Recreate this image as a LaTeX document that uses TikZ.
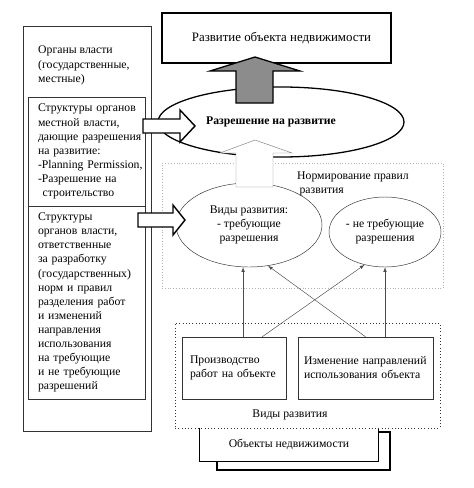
\documentclass[tikz,border=0pt]{standalone}
\usepackage{fontspec}
\setmainfont{Liberation Serif}
\usetikzlibrary{arrows, calc, shapes.geometric}
\tikzset{>=latex,every node/.style={inner sep=0pt, font=\fontsize{10}{12}\selectfont}}
\tikzset{
  frameBox/.style={shape=rectangle, draw=black!80},
  orgBox/.style={shape=rectangle, draw=black!80, fill=white, align=left, text width=29.1mm},
  plainText/.style={align=left},
  mainBox/.style={shape=rectangle, draw=black, line width=1.2pt, fill=white},
  grantEllipse/.style={ellipse, draw=black, line width=1.1pt, font=\fontsize{10}{12}\selectfont\bfseries},
  kindEllipse/.style={ellipse, draw=black!80, align=center},
  normFrame/.style={shape=rectangle, draw=black!30, dotted},
  kindFrame/.style={shape=rectangle, draw=black!80, dotted, thick},
  workBox/.style={shape=rectangle, draw=black!80, fill=white, align=left},
  hatchArrow/.style={draw=black, line width=1.1pt, fill=black!45},
  hollowArrow/.style={draw=black, line width=1.2pt, fill=white},
  lightArrow/.style={draw=black!50, fill=white},
  devLink/.style={draw=black!70, ->}
}
\begin{document}
\begin{tikzpicture}[x=0.3mm, y=-0.3mm]
  \useasboundingbox (0,0) rectangle (474,488);

  % left column: authorities
  \node[frameBox, minimum width=38.4mm, minimum height=121.5mm] (organs) at (87,228.5) {};
  \node[plainText, anchor=north west] (organsTxt) at (38,46) {Органы власти\\(государственные,\\местные)};
  \node[orgBox, minimum width=35.1mm, minimum height=32.7mm] (permitOrg) at (86.5,151.5)
    {\mbox{Структуры органов}\\местной власти,\\\mbox{дающие разрешения}\\на развитие:\\\mbox{-Planning Permission,}\\-Разрешение на\\\hspace*{0.4em}строительство};
  \node[orgBox, minimum width=35.1mm, minimum height=57.9mm] (normsOrg) at (86.5,302.5)
    {Структуры\\органов власти,\\ответственные\\за разработку\\(государственных)\\норм и правил\\разделения работ\\и изменений\\направления\\использования\\на требующие\\и не требующие\\разрешений};

  % rules frame
  \node[normFrame, minimum width=84.3mm, minimum height=37.5mm] (norm) at (302.5,225.5) {};
  \node[plainText, anchor=north west] (normTxt) at (297,172) {Нормирование правил\\\hspace*{0.2em}развития};

  % result and permission
  \node[mainBox, minimum width=68.7mm, minimum height=15mm, font=\fontsize{11}{13}\selectfont] (devObj) at (276.5,38) {\hspace*{3mm}Развитие объекта недвижимости};
  \node[grantEllipse, minimum width=73.8mm, minimum height=21mm] (grant) at (281,122) {Разрешение на развитие\hspace*{6mm}};
  \draw[hatchArrow] (236,103) -- (236,71) -- (210,71) -- (255,57) -- (300,71) -- (273,71) -- (273,103) -- cycle;

  \node[kindEllipse, minimum width=43.8mm, minimum height=25.2mm] (kindsReq) at (249,225) {Виды развития:\\- требующие\\разрешения};
  \node[kindEllipse, minimum width=33.6mm, minimum height=21mm] (notReq) at (385,232) {- не требующие\\разрешения};
  \draw[lightArrow] (236,187) -- (236,153) -- (220,153) -- (255,140) -- (292,153) -- (273,153) -- (273,187) -- cycle;

  \draw[hollowArrow] (143,119) -- (180,119) -- (180,110) -- (195,126) -- (180,142) -- (180,133) -- (143,133) -- cycle;
  \draw[hollowArrow] (138,213) -- (173,213) -- (173,205) -- (185,220) -- (173,235) -- (173,227) -- (138,227) -- cycle;

  % objects and kinds of development
  \node[mainBox, minimum width=51.9mm, minimum height=11.4mm] (objShadow) at (303.5,451) {};
  \node[shape=rectangle, fill=white, minimum width=53.4mm, minimum height=9.9mm] (objects) at (289,444.5) {Объекты недвижимости};
  \draw[line width=1.2pt] (objects.north west) |- (objects.south east) -- (objects.north east);

  \node[kindFrame, minimum width=79.5mm, minimum height=31.5mm] (kinds) at (307.5,375.5) {};
  \node (kindsTxt) at (290,415) {Виды развития};
  \node[workBox, text width=26.4mm, minimum width=31.2mm, minimum height=18.6mm] (work) at (234,368) {Производство\\\mbox{работ на объекте}};
  \node[workBox, text width=36.9mm, minimum width=40.5mm, minimum height=18.6mm] (change) at (365.5,368) {\mbox{Изменение направлений}\\\mbox{использования объекта}};

  \path
    (work.north -| kindsReq.262) edge [devLink] (kindsReq.262)
    ($(work.north west)!0.77!(work.north east)$) edge [devLink] (notReq.238)
    (change.north) edge [devLink] (kindsReq.295)
    (change.north -| notReq.south) edge [devLink] (notReq.south);
\end{tikzpicture}
\end{document}
